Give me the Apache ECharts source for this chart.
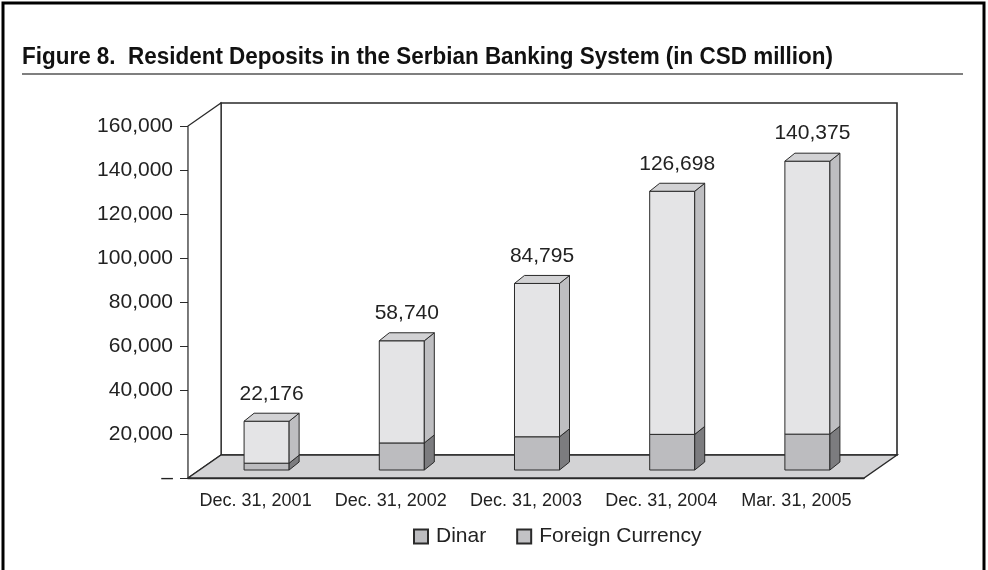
<!DOCTYPE html>
<html>
<head>
<meta charset="utf-8">
<script src="https://cdn.jsdelivr.net/npm/echarts@6/dist/echarts.min.js"></script>
<style>
    html, body { margin: 0; padding: 0; background: #fff; }
    #chart-container { width: 988px; height: 570px; }
</style>
</head>
<body>
<div id="chart-container"></div>
<script>
const categories = ['Dec. 31, 2001', 'Dec. 31, 2002', 'Dec. 31, 2003', 'Dec. 31, 2004', 'Mar. 31, 2005'];
const totals = [22176, 58740, 84795, 126698, 140375];
const dinar = [3100, 12300, 15100, 16200, 16300];
const foreignCurrency = [19076, 46440, 69695, 110498, 124075];

const TITLE = 'Figure 8.  Resident Deposits in the Serbian Banking System (in CSD million)';
const TITLE_FONT = 'bold 23px "Liberation Sans", Arial, sans-serif';
const LABEL_FONT = '"Liberation Sans", Arial, sans-serif';
const EDGE = '#2a2a2a';
const FLOOR_DX = 33, FLOOR_DY = -23;   // depth of the floor / walls
const BAR_DX = 10, BAR_DY = -8;        // depth of one bar
const PLANE_DX = 11, PLANE_DY = -8;    // bars stand a little back on the floor

const fmt = (v) => v.toLocaleString('en-US');

// the original title uses a condensed face, so squeeze a regular one to the same width
function titleScale () {
    const ctx = document.createElement('canvas').getContext('2d');
    ctx.font = TITLE_FONT;
    return 811 / ctx.measureText(TITLE).width;
}

function drawChart () {
    const chartContainer = document.getElementById('chart-container');
    const myChart = echarts.init(chartContainer);

    function poly (points, fill, width) {
        return {
            type: 'polygon',
            shape: { points: points },
            style: { fill: fill, stroke: EDGE, lineWidth: width || 1 }
        };
    }

    // back wall, side wall and floor of the 3d box
    function renderFrame (params, api) {
        const cs = params.coordSys;
        const x0 = cs.x, x1 = cs.x + cs.width;
        const yTop = cs.y, yBot = cs.y + cs.height;
        const dx = FLOOR_DX, dy = FLOOR_DY;
        return {
            type: 'group',
            children: [
                poly([[x0 + dx, yTop + dy], [x1 + dx, yTop + dy], [x1 + dx, yBot + dy], [x0 + dx, yBot + dy]], '#fff', 1.6),
                poly([[x0, yTop], [x0 + dx, yTop + dy], [x0 + dx, yBot + dy], [x0, yBot]], '#fff', 1.2),
                poly([[x0, yBot], [x1, yBot], [x1 + dx, yBot + dy], [x0 + dx, yBot + dy]], '#d3d3d5', 1.4)
            ]
        };
    }

    function makeBox (idx, lowVal, highVal, api, colors, withTop) {
        const base = api.coord([idx, lowVal]);
        const top = api.coord([idx, highVal]);
        const w = api.size([1, 0])[0] * 0.333;
        const xl = base[0] - w / 2 + PLANE_DX;
        const xr = xl + w;
        const yb = base[1] + PLANE_DY;
        const yt = top[1] + PLANE_DY;
        const children = [
            poly([[xl, yb], [xr, yb], [xr, yt], [xl, yt]], colors.front),
            poly([[xr, yb], [xr + BAR_DX, yb + BAR_DY], [xr + BAR_DX, yt + BAR_DY], [xr, yt]], colors.side)
        ];
        if (withTop) {
            children.push(poly([[xl, yt], [xr, yt], [xr + BAR_DX, yt + BAR_DY], [xl + BAR_DX, yt + BAR_DY]], colors.top));
        }
        return { children: children, xl: xl, xr: xr, yt: yt };
    }

    function renderDinar (params, api) {
        const box = makeBox(api.value(0), api.value(1), api.value(2), api,
            { front: '#bcbcbf', side: '#7c7c7f' }, false);
        return { type: 'group', children: box.children };
    }

    function renderForeign (params, api) {
        const box = makeBox(api.value(0), api.value(1), api.value(2), api,
            { front: '#e4e4e6', side: '#bebec1', top: '#d2d2d4' }, true);
        box.children.push({
            type: 'text',
            style: {
                x: (box.xl + box.xr + BAR_DX) / 2,
                y: box.yt + BAR_DY - 9,
                text: fmt(totals[params.dataIndex]),
                textAlign: 'center',
                textVerticalAlign: 'bottom',
                font: '21px ' + LABEL_FONT,
                fill: '#222'
            }
        });
        return { type: 'group', children: box.children };
    }

    const options = {
        backgroundColor: '#fff',
        animation: false,
        graphic: [
            {
                type: 'rect',
                shape: { x: 3, y: 3, width: 981, height: 620 },
                style: { fill: 'none', stroke: '#000', lineWidth: 3 }
            },
            {
                type: 'text',
                x: 22,
                y: 46,
                scaleX: titleScale(),
                style: {
                    text: TITLE,
                    font: TITLE_FONT,
                    fill: '#111'
                }
            },
            {
                type: 'line',
                shape: { x1: 22, y1: 74, x2: 963, y2: 74 },
                style: { stroke: '#555', lineWidth: 1.5 }
            }
        ],
        grid: { left: 188, right: 124, top: 126, bottom: 92 },
        legend: {
            data: ['Dinar', 'Foreign Currency'],
            left: 408,
            top: 521,
            icon: 'rect',
            itemWidth: 14,
            itemHeight: 14,
            itemGap: 30,
            textStyle: { fontSize: 21, color: '#222', fontFamily: LABEL_FONT, padding: [0, 0, 0, 3] }
        },
        xAxis: {
            type: 'category',
            data: categories,
            axisLine: { lineStyle: { color: EDGE, width: 1.4 } },
            axisTick: { length: 8, interval: 0, lineStyle: { color: EDGE } },
            axisLabel: { interval: 0, fontSize: 18, color: '#222', margin: 14, fontFamily: LABEL_FONT }
        },
        yAxis: {
            type: 'value',
            min: 0,
            max: 160000,
            interval: 20000,
            axisLine: { show: true, lineStyle: { color: EDGE, width: 1.2 } },
            axisTick: { show: true, length: 8, lineStyle: { color: EDGE } },
            splitLine: { show: false },
            axisLabel: {
                fontSize: 21,
                color: '#222',
                margin: 15,
                fontFamily: LABEL_FONT,
                formatter: function (value) {
                    return value === 0 ? '–' : fmt(value);
                }
            }
        },
        series: [
            {
                name: 'frame',
                type: 'custom',
                silent: true,
                clip: false,
                z: 1,
                renderItem: renderFrame,
                data: [[0, 0]]
            },
            {
                name: 'Dinar',
                type: 'custom',
                clip: false,
                z: 3,
                itemStyle: { color: '#bcbcbf', borderColor: EDGE, borderWidth: 1 },
                encode: { x: 0, y: [1, 2] },
                renderItem: renderDinar,
                data: dinar.map((v, i) => [i, 0, v])
            },
            {
                name: 'Foreign Currency',
                type: 'custom',
                clip: false,
                z: 3,
                itemStyle: { color: '#c2c2c5', borderColor: EDGE, borderWidth: 1 },
                encode: { x: 0, y: [1, 2] },
                renderItem: renderForeign,
                data: foreignCurrency.map((v, i) => [i, dinar[i], dinar[i] + v])
            }
        ]
    };

    myChart.setOption(options);
}

drawChart();
</script>
</body>
</html>
